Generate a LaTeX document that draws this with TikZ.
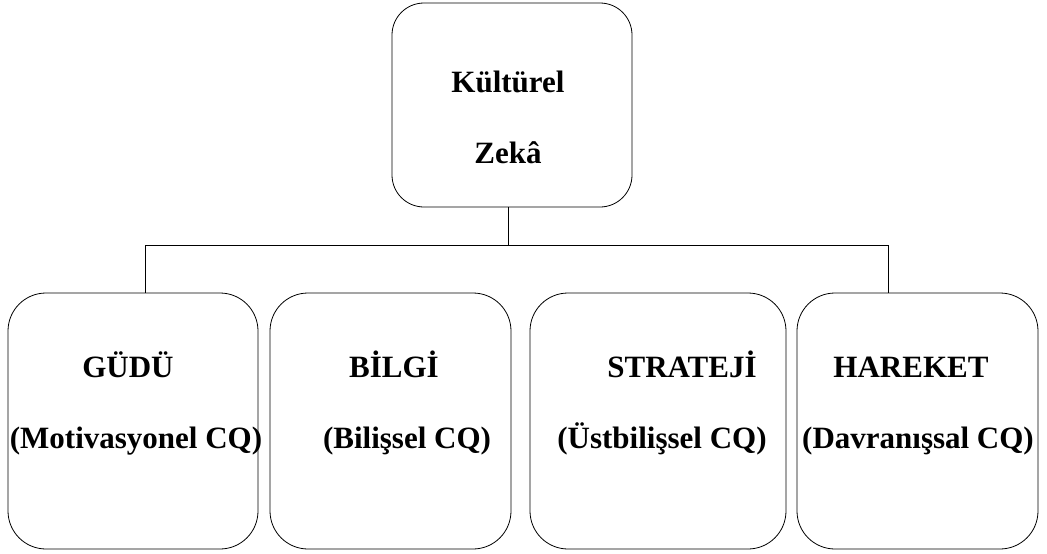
\documentclass[tikz,border=0pt]{standalone}
\usepackage{fontspec}
\setmainfont{Liberation Serif}
\tikzset{
  cqbox/.style={draw, line width=0.8pt, rounded corners=38pt, fill=white},
  topbox/.style={cqbox, rounded corners=32pt},
  lbl/.style={anchor=base, inner sep=0pt, font=\fontsize{31}{36}\selectfont\bfseries},
  link/.style={line width=0.8pt}
}
\begin{document}
\begin{tikzpicture}[x=1pt,y=-1pt]
  \useasboundingbox (0,0) rectangle (1047,554);
  % top box
  \node[topbox, minimum width=240pt, minimum height=204pt] (kz) at (512,105) {};
  \node[lbl] (kz1) at (508,92) {Kültürel};
  \node[lbl] (kz2) at (508,163) {Zekâ};
  % the four dimensions
  \node[cqbox, minimum width=250pt, minimum height=256pt] (gudu) at (133,421) {};
  \node[cqbox, minimum width=241pt, minimum height=256pt] (bilgi) at (390.5,421) {};
  \node[cqbox, minimum width=256pt, minimum height=256pt] (strateji) at (658,421) {};
  \node[cqbox, minimum width=241pt, minimum height=256pt] (hareket) at (917.5,421) {};
  \node[lbl] (gudu1) at (128,377) {GÜDÜ};
  \node[lbl] (gudu2) at (136,448) {(Motivasyonel CQ)};
  \node[lbl] (bilgi1) at (394,377) {BİLGİ};
  \node[lbl] (bilgi2) at (407,448) {(Bilişsel CQ)};
  \node[lbl] (strateji1) at (682,377) {STRATEJİ};
  \node[lbl] (strateji2) at (662,448) {(Üstbilişsel CQ)};
  \node[lbl] (hareket1) at (911,377) {HAREKET};
  \node[lbl] (hareket2) at (918,448) {(Davranışsal CQ)};
  % connectors
  \coordinate (bus) at (508,245);
  \coordinate (dropL) at (145,245);
  \coordinate (dropR) at (888,245);
  \draw[link] (bus |- kz.south) -- (bus);
  \draw[link] (dropL |- gudu.north) -- (dropL) -- (dropR) -- (dropR |- hareket.north);
\end{tikzpicture}
\end{document}
